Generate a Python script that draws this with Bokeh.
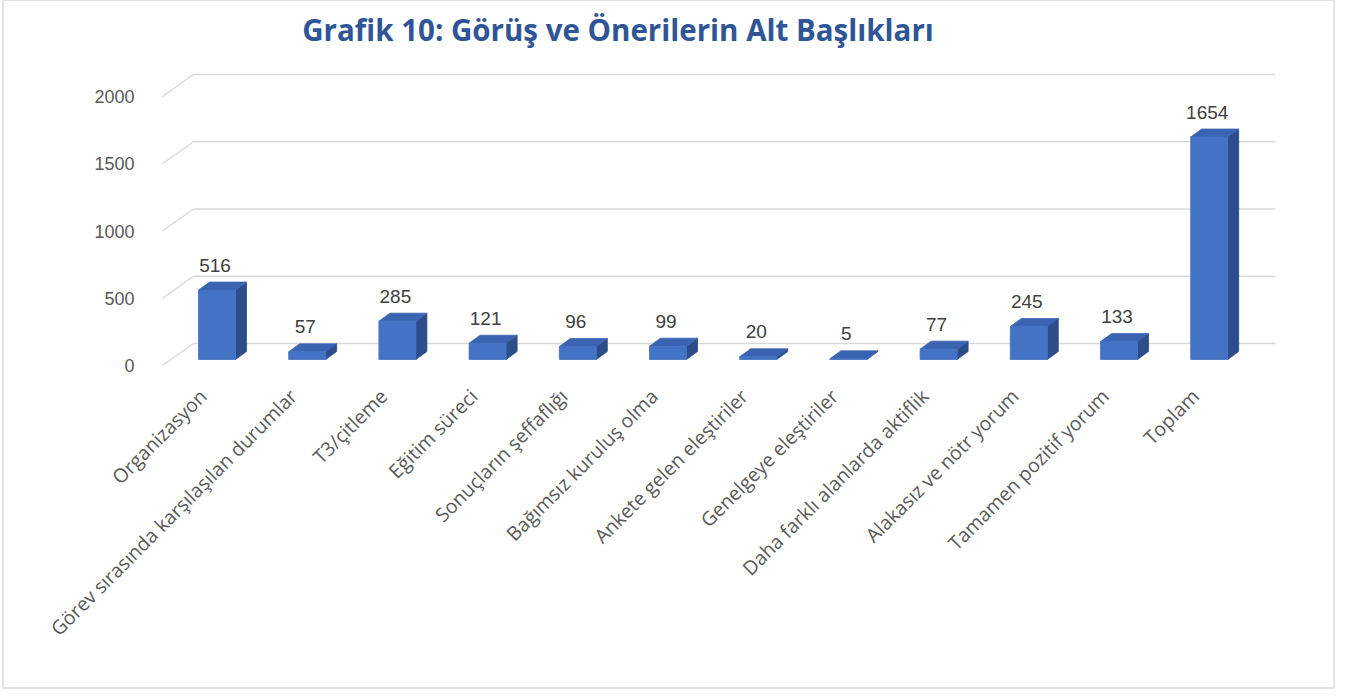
import math
from bokeh.plotting import figure
from bokeh.models import Range1d, LinearAxis, FixedTicker, ColumnDataSource, Label
from bokeh.core.properties import value
from bokeh.embed import file_html
from bokeh.resources import INLINE

# ---------------- data ----------------
categories = [
    "Organizasyon",
    "Görev sırasında karşılaşılan durumlar",
    "T3/çitleme",
    "Eğitim süreci",
    "Sonuçların şeffaflığı",
    "Bağımsız kuruluş olma",
    "Ankete gelen eleştiriler",
    "Genelgeye eleştiriler",
    "Daha farklı alanlarda aktiflik",
    "Alakasız ve nötr yorum",
    "Tamamen pozitif yorum",
    "Toplam",
]
counts = [516, 57, 285, 121, 96, 99, 20, 5, 77, 245, 133, 1654]
y_ticks = [0, 500, 1000, 1500, 2000]
title_text = "Grafik 10: Görüş ve Önerilerin Alt Başlıkları"

# ---------------- layout geometry (page pixels) ----------------
MX, MY = 4, 1                 # figure margin (left, top)
FIG_W, FIG_H = 1329, 686
FL, FR, FT, FB = 150, 1290, 6, 372    # frame edges on page
PXU = 90.2                    # pixels per category step
K = 0.1345                    # pixels per value unit
BAR_ZERO = 359                # page y of value 0 on bar plane
FRONT_ZERO = 365              # page y of value 0 on label plane
BACK_ZERO = 343               # page y of value 0 on back wall
BACK_X0, BACK_X1, DIAG_X0 = 193, 1275, 162
FIRST_CX = 216.5
LABEL_SHIFT = 14              # category labels sit left of bar centres
TITLE_X, TITLE_Y = 617.5, 29  # page position of title centre

xs = -(FIRST_CX - FL) / PXU
xe = xs + (FR - FL) / PXU
ys = -(FB - BAR_ZERO) / K
ye = ys + (FB - FT) / K
front_shift = (FRONT_ZERO - BAR_ZERO) / K
back_shift = (BAR_ZERO - BACK_ZERO) / K


def xu(px):
    return xs + (px - FL) / PXU


def yu(py):
    return ys + (FB - py) / K


def dxu(px):
    return px / PXU


def dyu(px):
    return px / K


p = figure(
    width=FIG_W, height=FIG_H,
    x_range=Range1d(xs, xe), y_range=Range1d(ys, ye),
    output_backend="svg", toolbar_location=None,
    x_axis_location=None, y_axis_location=None,
    min_border_left=FL - MX, min_border_right=FIG_W - (FR - MX),
    min_border_top=FT - MY, min_border_bottom=FIG_H - (FB - MY),
)
p.margin = (MY, 0, 0, MX)
p.styles = {"outline": "2px solid #e4e4e4"}
p.outline_line_color = None
p.xgrid.visible = False
p.ygrid.visible = False
p.background_fill_color = "white"
p.border_fill_color = "white"

# title
title = Label(x=xu(TITLE_X), y=yu(TITLE_Y), text=title_text,
              text_align="center", text_baseline="middle",
              text_font="Open Sans", text_font_size="29.5px",
              text_font_style="bold", text_color="#2F5597")
p.add_layout(title)

# y axis on label plane
p.extra_y_ranges = {"front": Range1d(ys + front_shift, ye + front_shift)}
yax = LinearAxis(y_range_name="front", ticker=FixedTicker(ticks=y_ticks))
yax.axis_line_color = None
yax.major_tick_line_color = None
yax.minor_tick_line_color = None
yax.major_label_standoff = 10
yax.major_label_text_font = "Liberation Sans"
yax.major_label_text_font_size = "18px"
yax.major_label_text_color = "#595959"
p.add_layout(yax, "left")

# x axis (labels shifted slightly left of the bars)
sh = LABEL_SHIFT / PXU
p.extra_x_ranges = {"labels": Range1d(xs + sh, xe + sh)}
xax = LinearAxis(x_range_name="labels",
                 ticker=FixedTicker(ticks=list(range(len(categories)))))
xax.major_label_overrides = {i: c for i, c in enumerate(categories)}
xax.major_label_orientation = math.pi / 4
xax.axis_line_color = None
xax.major_tick_line_color = None
xax.minor_tick_line_color = None
xax.major_label_standoff = 14
xax.major_label_text_font = "Open Sans"
xax.major_label_text_font_size = "19.5px"
xax.major_label_text_color = "#595959"
p.add_layout(xax, "below")

# back wall gridlines and diagonals
grid_col = "#d9d9d9"
p.segment(x0=[xu(BACK_X0)] * len(y_ticks), x1=[xu(BACK_X1)] * len(y_ticks),
          y0=[t + back_shift for t in y_ticks], y1=[t + back_shift for t in y_ticks],
          line_color=grid_col, line_width=1.5)
p.segment(x0=[xu(DIAG_X0)] * len(y_ticks), x1=[xu(BACK_X0)] * len(y_ticks),
          y0=[t - front_shift for t in y_ticks], y1=[t + back_shift for t in y_ticks],
          line_color=grid_col, line_width=1.5)

# 3D bars
hw = dxu(18.5)
ddx = dxu(11)
ddy = dyu(8)
xs_idx = list(range(len(categories)))

side_x, side_y, top_x, top_y = [], [], [], []
for i, v in zip(xs_idx, counts):
    r = i + hw
    l = i - hw
    side_x.append([r, r, r + ddx, r + ddx])
    side_y.append([0, v, v + ddy, ddy])
    top_x.append([l, r, r + ddx, l + ddx])
    top_y.append([v, v, v + ddy, v + ddy])

p.patches(side_x, side_y, fill_color="#2C4D8A", line_color="#2C4D8A", line_width=0.8)
p.patches(top_x, top_y, fill_color="#3A63B2", line_color="#3A63B2", line_width=0.8)
src = ColumnDataSource(dict(x=xs_idx, top=counts, lab=[str(c) for c in counts]))
p.vbar(x="x", top="top", bottom=0, width=2 * hw, source=src,
       fill_color="#4472C4", line_color="#4472C4", line_width=0.8)

p.text(x="x", y="top", text="lab", source=src, x_offset=-2, y_offset=-25,
       text_align="center", text_baseline="middle",
       text_font=value("Liberation Sans"), text_font_size="19px", text_color="#404040")

open("out.html", "w").write(file_html(p, INLINE))
